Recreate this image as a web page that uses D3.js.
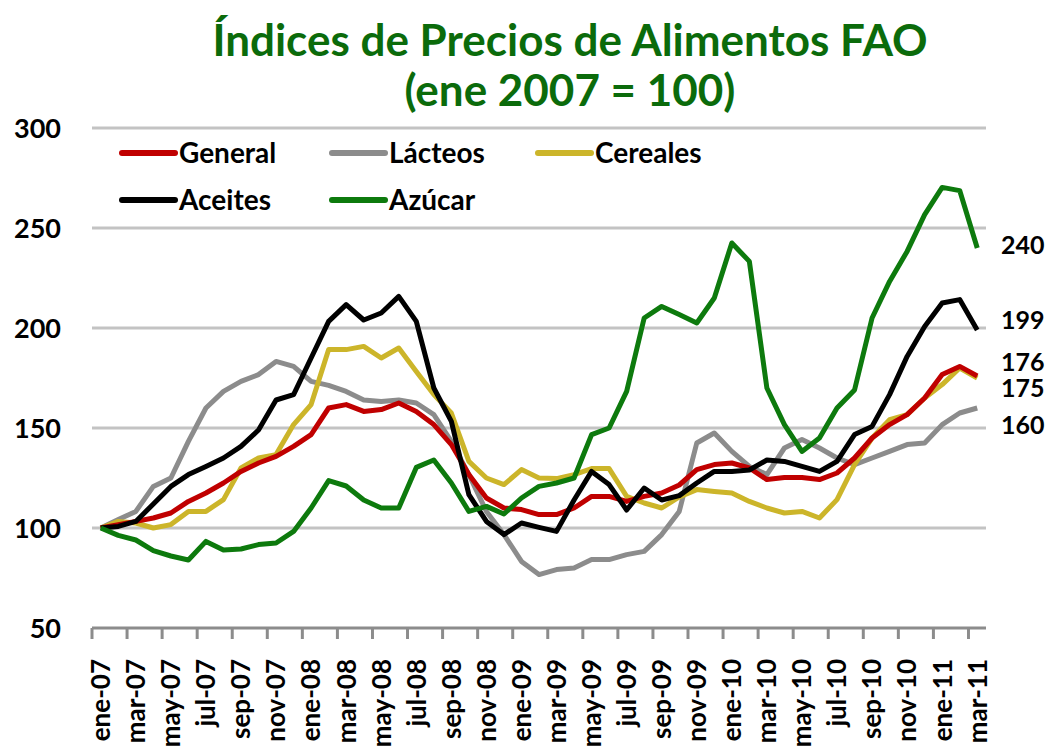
<!DOCTYPE html>
<html>
<head>
<meta charset="utf-8">
<script src="https://cdn.jsdelivr.net/npm/d3@7"></script>
<style>
  body { margin: 0; background: #fff; }
  text { font-family: Lato, "Open Sans", sans-serif; font-weight: bold; }
</style>
</head>
<body>
<div id="wrapper"></div>
<script>
// data (ene 2007 = 100)
const months = ["ene", "feb", "mar", "abr", "may", "jun", "jul", "ago", "sep", "oct", "nov", "dic"]
const categories = d3.range(51).map((i) => `${months[i % 12]}-${String(7 + Math.floor(i / 12)).padStart(2, "0")}`)

const general = [100, 101.7, 103.3, 105, 107.5, 113.3, 117.5, 122.5, 128.3, 132.5, 135.8, 140.8, 146.7, 160, 161.7, 158.3, 159.2,
  162.5, 158.3, 151.7, 141.7, 126.7, 115, 110, 109.2, 106.7, 106.7, 110, 115.8, 115.8, 113.3, 115.8, 117.5, 121.5,
  129.2, 131.7, 132.5, 130, 124.2, 125.3, 125.3, 124.2, 127.5, 135, 145, 151.7, 156.7, 165, 176.7, 180.8, 176]
const lacteos = [100, 104.2, 108.3, 120.8, 125, 143.3, 160, 168.3, 173.3, 176.7, 183.3, 180.8, 173.3, 171.3, 168.3, 164, 163.3,
  164, 162.5, 156.7, 143.3, 126.7, 108.3, 96.7, 83.3, 76.7, 79.2, 80, 84.2, 84.2, 86.7, 88.3, 96.7, 108.3,
  142.5, 147.5, 138.3, 130.8, 126.7, 140, 144.2, 140, 135, 131.7, 135, 138.3, 141.7, 142.5, 151.7, 157.5, 160]
const cereales = [100, 103.3, 102.5, 100, 101.7, 108.3, 108.3, 114.2, 130, 135, 136.7, 151.7, 161.7, 189.2, 189.2, 190.8, 185,
  190, 178.3, 166.7, 157.5, 133.3, 125, 121.7, 129.2, 125, 124.7, 126.7, 129.7, 129.7, 115.8, 112.5, 110, 115.5,
  119.2, 118.3, 117.5, 113.3, 110, 107.5, 108.3, 105, 114.2, 131.7, 145, 154.2, 156.7, 165, 171.7, 180, 175]
const aceites = [100, 100.8, 103.3, 112, 120.8, 126.7, 130.8, 135, 140.8, 149, 164, 166.7, 185, 203.3, 211.7, 204, 207.5,
  215.8, 203.3, 170, 153.3, 116.7, 103.3, 96.7, 102.5, 100.3, 98.3, 114, 128.3, 121.7, 109, 120, 114, 116.2,
  122.5, 128.3, 128.3, 129, 134, 133.3, 130.8, 128.3, 133.3, 146.7, 150.8, 166.7, 185.8, 200.8, 212.5, 214.2, 199]
const azucar = [100, 96.3, 94, 88.7, 86, 84, 93.3, 89, 89.5, 91.7, 92.5, 98.3, 110, 123.7, 121, 114, 110,
  110, 130.3, 134, 122.5, 108.3, 110.8, 107, 115, 120.8, 122.5, 125, 146.7, 150, 168.3, 205, 210.8, 206.7,
  202.5, 215, 242.5, 233.3, 170, 151.7, 138.3, 145, 160, 169, 205, 223.3, 238.3, 256.7, 270.3, 268.7, 240]

const seriesNames = ["General", "Lácteos", "Cereales", "Aceites", "Azúcar"]
const seriesValues = [general, lacteos, cereales, aceites, azucar]
const seriesColors = ["#c00000", "#8c8c8c", "#ccb52a", "#000000", "#0d7a0d"]
const drawOrder = [1, 2, 0, 3, 4]

const yTicks = [50, 100, 150, 200, 250, 300]
const endLabels = [
  { text: "240", series: 4, dy: -3 },
  { text: "199", series: 3, dy: -10 },
  { text: "176", series: 0, dy: -14 },
  { text: "175", series: 2, dy: 10 },
  { text: "160", series: 1, dy: 17 },
]

// dimensions
const dimensions = {
  width: 1049,
  height: 752,
  margins: { top: 128, right: 63, bottom: 124, left: 92 },
}
dimensions.boundedWidth = dimensions.width - dimensions.margins.left - dimensions.margins.right
dimensions.boundedHeight = dimensions.height - dimensions.margins.top - dimensions.margins.bottom

const svg = d3.select("#wrapper").append("svg")
  .attr("width", dimensions.width)
  .attr("height", dimensions.height)

const bounds = svg.append("g")
  .attr("transform", `translate(${dimensions.margins.left},${dimensions.margins.top})`)

// scales
const xScale = d3.scaleBand()
  .domain(categories)
  .range([0, dimensions.boundedWidth])
const yScale = d3.scaleLinear()
  .domain([50, 300])
  .range([dimensions.boundedHeight, 0])
const xCenter = (i) => xScale(categories[i]) + xScale.bandwidth() / 2

// title
const title = svg.append("text")
  .attr("text-anchor", "middle")
  .style("fill", "#0b6b0b")
  .style("font-size", "44px")
title.append("tspan").attr("x", 570).attr("y", 56).text("Índices de Precios de Alimentos FAO")
title.append("tspan").attr("x", 570).attr("y", 106).text("(ene 2007 = 100)")

// gridlines
bounds.append("g")
  .selectAll("line")
  .data(yTicks.filter((d) => d > 50))
  .join("line")
  .attr("x1", 0)
  .attr("x2", dimensions.boundedWidth)
  .attr("y1", (d) => yScale(d))
  .attr("y2", (d) => yScale(d))
  .attr("stroke", "#c3c3c3")
  .attr("stroke-width", 3)

// y labels
bounds.append("g")
  .selectAll("text")
  .data(yTicks)
  .join("text")
  .attr("x", -31)
  .attr("y", (d) => yScale(d))
  .attr("dy", "0.36em")
  .attr("text-anchor", "end")
  .style("font-size", "27px")
  .style("fill", "#000")
  .text((d) => d)

// x axis
const xAxis = bounds.append("g")
  .attr("transform", `translate(0,${dimensions.boundedHeight})`)
xAxis.append("line")
  .attr("x1", 0)
  .attr("x2", dimensions.boundedWidth)
  .attr("stroke", "#8c8c8c")
  .attr("stroke-width", 3)
xAxis.selectAll(".tick")
  .data(categories.filter((d, i) => i % 2 === 0))
  .join("line")
  .attr("class", "tick")
  .attr("x1", (d) => xScale(d))
  .attr("x2", (d) => xScale(d))
  .attr("y1", 0)
  .attr("y2", 11)
  .attr("stroke", "#8c8c8c")
  .attr("stroke-width", 3)
xAxis.selectAll(".label")
  .data(categories.filter((d, i) => i % 2 === 0))
  .join("text")
  .attr("class", "label")
  .attr("transform", (d) => `translate(${xScale(d) + xScale.bandwidth() / 2},31) rotate(-90)`)
  .attr("dy", "0.36em")
  .attr("text-anchor", "end")
  .style("font-size", "26px")
  .style("fill", "#000")
  .text((d) => d)

// lines
const lineGenerator = d3.line()
  .x((d, i) => xCenter(i))
  .y((d) => yScale(d))

bounds.append("g")
  .selectAll("path")
  .data(drawOrder)
  .join("path")
  .attr("d", (s) => lineGenerator(seriesValues[s]))
  .attr("fill", "none")
  .attr("stroke", (s) => seriesColors[s])
  .attr("stroke-width", 5)
  .attr("stroke-linejoin", "round")

// end labels
bounds.append("g")
  .selectAll("text")
  .data(endLabels)
  .join("text")
  .attr("x", dimensions.boundedWidth + 15)
  .attr("y", (d) => yScale(seriesValues[d.series][50]) + d.dy)
  .attr("dy", "0.36em")
  .style("font-size", "25px")
  .style("fill", "#000")
  .text((d) => d.text)

// legend
const legendPos = [[122, 153], [332, 153], [538, 153], [122, 200], [332, 200]]
const legend = svg.append("g")
  .selectAll("g")
  .data(seriesNames)
  .join("g")
  .attr("transform", (d, i) => `translate(${legendPos[i][0]},${legendPos[i][1]})`)
legend.append("line")
  .attr("x1", 0)
  .attr("x2", 53)
  .attr("stroke", (d, i) => seriesColors[i])
  .attr("stroke-width", 6)
  .attr("stroke-linecap", "round")
legend.append("text")
  .attr("x", 57)
  .attr("dy", "0.36em")
  .style("font-size", "28px")
  .style("fill", "#000")
  .text((d) => d)
</script>
</body>
</html>
